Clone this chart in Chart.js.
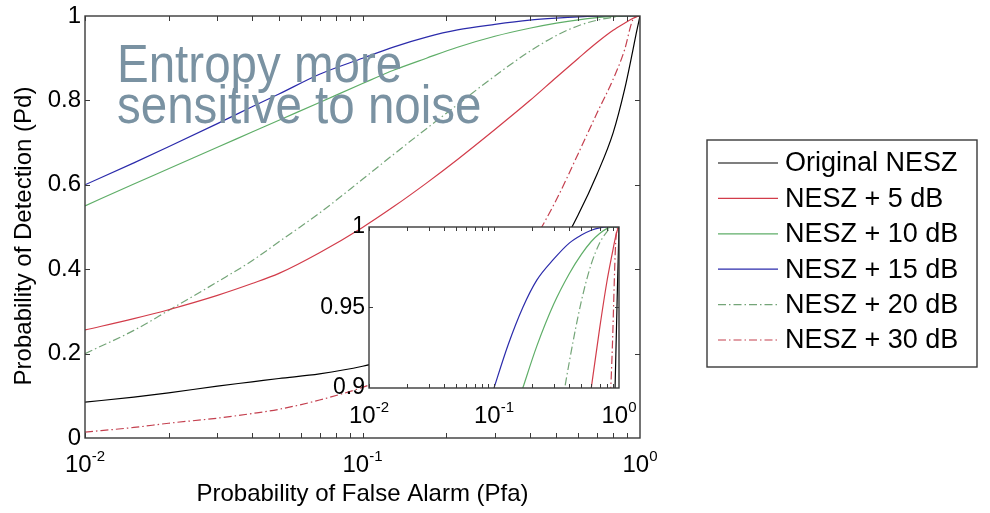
<!DOCTYPE html>
<html>
<head>
<meta charset="utf-8">
<script src="https://cdn.jsdelivr.net/npm/chart.js@4.4.1/dist/chart.umd.min.js"></script>
<style>
  body { margin: 0; background: #fff; }
  #wrap { position: relative; width: 990px; height: 513px; overflow: hidden; }
  #main { position: absolute; left: 0; top: 0; }
  #inset { position: absolute; left: 300px; top: 200px; }
  #note {
    position: absolute; left: 117px; top: 43px;
    font-family: 'Liberation Sans', Arial, sans-serif;
    font-size: 54px; line-height: 41px; color: #7a92a2;
    white-space: nowrap; transform: scaleX(0.88); transform-origin: 0 0;
  }
</style>
</head>
<body>
<div id="wrap">
  <canvas id="main" width="990" height="513"></canvas>
  <div id="note">Entropy more<br>sensitive to noise</div>
  <canvas id="inset" width="340" height="240"></canvas>
</div>
<script>
// data
const pfa = [0.01, 0.015, 0.02, 0.03, 0.04, 0.05, 0.07, 0.1, 0.13, 0.17, 0.22, 0.3, 0.4, 0.5, 0.6, 0.7, 0.8, 0.88, 0.94, 0.97, 1];
const pdOriginal = [0.085, 0.097, 0.107, 0.123, 0.133, 0.141, 0.152, 0.17, 0.19, 0.215, 0.25, 0.30, 0.365, 0.435, 0.53, 0.625, 0.723, 0.826, 0.915, 0.96, 1];
const pd5 = [0.256, 0.283, 0.304, 0.338, 0.366, 0.39, 0.439, 0.499, 0.549, 0.604, 0.66, 0.731, 0.799, 0.855, 0.9, 0.937, 0.966, 0.983, 0.994, 0.998, 1];
const pd10 = [0.55, 0.602, 0.638, 0.689, 0.725, 0.753, 0.795, 0.84, 0.872, 0.9, 0.926, 0.952, 0.971, 0.983, 0.991, 0.996, 0.999, 1, 1, 1, 1];
const pd15 = [0.60, 0.652, 0.69, 0.745, 0.785, 0.815, 0.862, 0.90, 0.927, 0.950, 0.967, 0.980, 0.990, 0.995, 0.998, 0.9995, 1, 1, 1, 1, 1];
const pd20 = [0.20, 0.255, 0.302, 0.37, 0.42, 0.465, 0.533, 0.613, 0.673, 0.733, 0.79, 0.858, 0.916, 0.954, 0.977, 0.99, 0.997, 1, 1, 1, 1];
const pd30 = [0.014, 0.025, 0.035, 0.047, 0.058, 0.068, 0.09, 0.12, 0.15, 0.19, 0.24, 0.32, 0.45, 0.565, 0.675, 0.77, 0.85, 0.92, 0.99, 0.999, 1];

const seriesNames = ['Original NESZ', 'NESZ + 5 dB', 'NESZ + 10 dB', 'NESZ + 15 dB', 'NESZ + 20 dB', 'NESZ + 30 dB'];
const seriesValues = [pdOriginal, pd5, pd10, pd15, pd20, pd30];
const xTickVals = [0.01, 0.1, 1];
const xTickExp = ['-2', '-1', '0'];
const yTitle = 'Probability of Detection (Pd)';

const FONT = "'Liberation Sans', Arial, Helvetica, sans-serif";
const colors = ['#000000', '#d23c4a', '#5fae68', '#2b2bab', '#74a578', '#c4404f'];
const dashes = [[], [], [], [], [8, 3, 1.5, 3], [8, 3, 1.5, 3]];

Chart.defaults.font.family = FONT;
Chart.defaults.color = '#000';

function makeDatasets() {
  return seriesNames.map((name, i) => ({
    label: name,
    data: pfa.map((x, j) => ({ x: x, y: seriesValues[i][j] })),
    borderColor: colors[i],
    borderDash: dashes[i],
    borderWidth: 1.2,
    pointRadius: 0,
    cubicInterpolationMode: 'monotone',
    fill: false
  }));
}

const fmt = v => String(Math.round(v * 100) / 100);

// box, inward ticks and 10^n labels
function framePlugin(cfg) {
  return {
    id: 'frame',
    beforeDraw(chart) {
      const { ctx, chartArea: a } = chart;
      ctx.save();
      ctx.fillStyle = '#fff';
      ctx.fillRect(a.left, a.top, a.right - a.left, a.bottom - a.top);
      ctx.restore();
    },
    afterDraw(chart) {
      const { ctx, chartArea: a, scales: { x, y } } = chart;
      ctx.save();
      ctx.strokeStyle = '#3a3a3a';
      ctx.lineWidth = 1;
      ctx.beginPath();
      for (const d of [0.01, 0.1]) {
        for (let m = 1; m < 10; m++) {
          const px = Math.round(x.getPixelForValue(d * m)) + 0.5;
          ctx.moveTo(px, a.bottom); ctx.lineTo(px, a.bottom - cfg.tick);
          ctx.moveTo(px, a.top); ctx.lineTo(px, a.top + cfg.tick);
        }
      }
      for (let v = y.min + cfg.step; v < y.max - 1e-6; v += cfg.step) {
        const py = Math.round(y.getPixelForValue(v)) + 0.5;
        ctx.moveTo(a.left, py); ctx.lineTo(a.left + cfg.tick, py);
        ctx.moveTo(a.right, py); ctx.lineTo(a.right - cfg.tick, py);
      }
      ctx.stroke();
      ctx.lineWidth = 1.4;
      ctx.strokeRect(a.left, a.top, a.right - a.left, a.bottom - a.top);

      ctx.fillStyle = '#000';
      ctx.textBaseline = 'alphabetic';
      ctx.textAlign = 'left';
      xTickVals.forEach((v, i) => {
        ctx.font = cfg.base + 'px ' + FONT;
        const w10 = ctx.measureText('10').width;
        ctx.font = cfg.exp + 'px ' + FONT;
        const we = ctx.measureText(xTickExp[i]).width;
        const px = x.getPixelForValue(v);
        const sx = px - (w10 + we) / 2;
        ctx.font = cfg.base + 'px ' + FONT;
        ctx.fillText('10', sx, cfg.baseY);
        ctx.font = cfg.exp + 'px ' + FONT;
        ctx.fillText(xTickExp[i], sx + w10, cfg.expY);
      });

      if (cfg.yTitle) {
        ctx.save();
        ctx.translate(cfg.yTitle.x, cfg.yTitle.y);
        ctx.rotate(-Math.PI / 2);
        ctx.font = '24px ' + FONT;
        ctx.textAlign = 'center';
        ctx.textBaseline = 'middle';
        ctx.fillText(yTitle, 0, 0);
        ctx.restore();
      }

      if (cfg.legend) {
        const L = cfg.legend;
        ctx.strokeStyle = '#3a3a3a';
        ctx.lineWidth = 1.4;
        ctx.strokeRect(L.x, L.y, L.w, L.h);
        ctx.font = '27px ' + FONT;
        ctx.textBaseline = 'middle';
        ctx.textAlign = 'left';
        chart.data.datasets.forEach((ds, i) => {
          const ry = L.row0 + i * L.rowStep;
          ctx.strokeStyle = ds.borderColor;
          ctx.lineWidth = 1.2;
          ctx.setLineDash(ds.borderDash);
          ctx.beginPath();
          ctx.moveTo(L.x + 11, ry); ctx.lineTo(L.x + 71, ry);
          ctx.stroke();
          ctx.setLineDash([]);
          ctx.fillStyle = '#000';
          ctx.fillText(ds.label, L.x + 78, ry + 1);
        });
      }
      ctx.restore();
    }
  };
}

new Chart(document.getElementById('main'), {
  type: 'line',
  data: { datasets: makeDatasets() },
  options: {
    responsive: false,
    animation: false,
    layout: { padding: { left: 0, top: 13, right: 350, bottom: 0 } },
    plugins: { legend: { display: false }, tooltip: { enabled: false } },
    scales: {
      x: {
        type: 'logarithmic', min: 0.01, max: 1,
        grid: { display: false, drawTicks: false },
        border: { display: false },
        ticks: { display: false },
        title: { display: true, text: 'Probability of False Alarm (Pfa)', font: { size: 24 }, padding: { top: 0, bottom: 4 } },
        afterFit: s => { s.height = 75; }
      },
      y: {
        min: 0, max: 1,
        grid: { display: false, drawTicks: false },
        border: { display: false },
        ticks: { stepSize: 0.2, font: { size: 24, lineHeight: 1 }, padding: 4, callback: fmt },
        afterFit: s => { s.width = 85; }
      }
    }
  },
  plugins: [framePlugin({
    tick: 5, step: 0.2, base: 24, exp: 15, baseY: 472, expY: 461,
    yTitle: { x: 24, y: 236 },
    legend: { x: 707, y: 140, w: 270, h: 227, row0: 163, rowStep: 35.4 }
  })]
});

new Chart(document.getElementById('inset'), {
  type: 'line',
  data: { datasets: makeDatasets() },
  options: {
    responsive: false,
    animation: false,
    layout: { padding: { left: 0, top: 27, right: 21, bottom: 0 } },
    plugins: { legend: { display: false }, tooltip: { enabled: false } },
    scales: {
      x: {
        type: 'logarithmic', min: 0.01, max: 1,
        grid: { display: false, drawTicks: false },
        border: { display: false },
        ticks: { display: false },
        afterFit: s => { s.height = 52; }
      },
      y: {
        min: 0.9, max: 1,
        grid: { display: false, drawTicks: false },
        border: { display: false },
        ticks: { stepSize: 0.05, font: { size: 23, lineHeight: 1 }, padding: 4, callback: fmt },
        afterFit: s => { s.width = 69; }
      }
    }
  },
  plugins: [framePlugin({ tick: 4, step: 0.05, base: 24, exp: 15, baseY: 223, expY: 212 })]
});
</script>
</body>
</html>
